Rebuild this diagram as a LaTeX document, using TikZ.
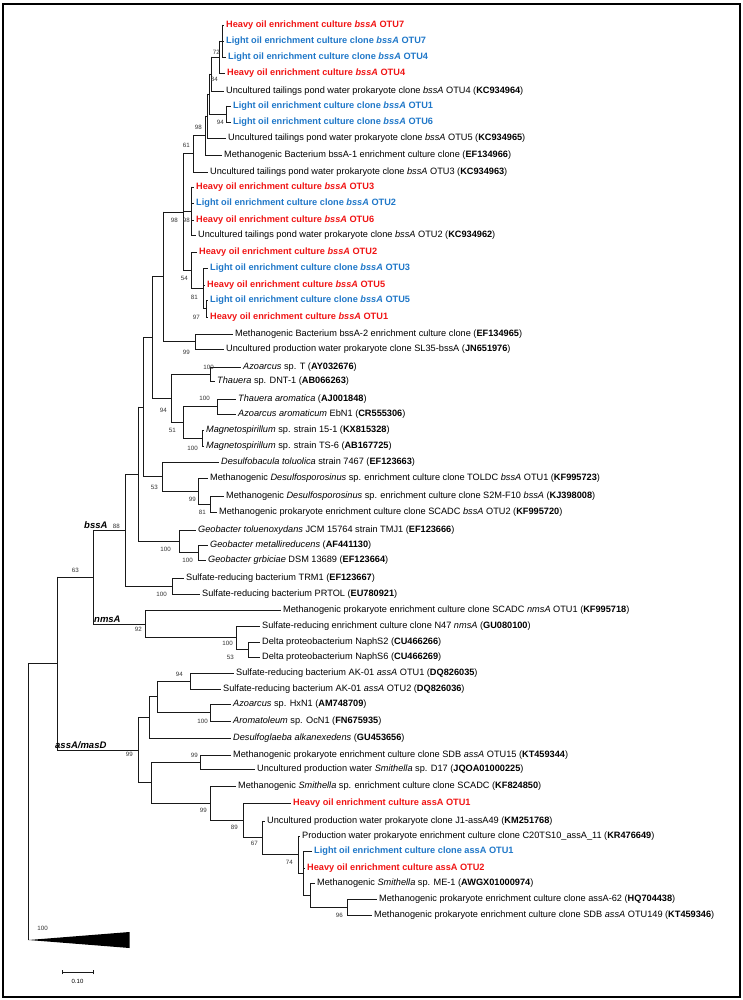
\documentclass[tikz,border=0pt]{standalone}
\usepackage{fontspec}
\setmainfont{Liberation Sans}
\usetikzlibrary{calc}
\definecolor{hred}{HTML}{F01414}
\definecolor{lblue}{HTML}{1F77C8}
\tikzset{
  br/.style={draw=black!90, line width=0.75pt, line cap=rect},
  lfn/.style={anchor=west, inner sep=0pt, text height=6.8pt, text depth=1.9pt, font=\fontsize{9.2}{10}\selectfont},
  heavy/.style={lfn, text=hred, font=\fontsize{9.2}{10}\selectfont\bfseries},
  light/.style={lfn, text=lblue, font=\fontsize{9.2}{10}\selectfont\bfseries},
  bs/.style={anchor=east, inner sep=0pt, font=\fontsize{6.2}{7}\selectfont, text=black!80},
  clab/.style={inner sep=0pt, font=\fontsize{9.5}{10}\selectfont\bfseries\itshape},
}
\newcommand\lf[5]{%
  \node[#2] (#1) at (#3,#4) {#5};
  \coordinate (#1e) at ([xshift=-2.5pt]#1.west);
}
\newcommand\inode[4]{%
  \path let \p1=(#3), \p2=(#4) in coordinate (#1) at (#2pt,{0.5*\y1+0.5*\y2});
  \draw[br] (#1 |- #3) -- (#1 |- #4);
  \draw[br] (#1 |- #3) -- (#3);
  \draw[br] (#1 |- #4) -- (#4);
}
\newcommand\kid[2]{\draw[br] (#1 |- #2) -- (#2);}
\begin{document}
\begin{tikzpicture}[x=1pt,y=-1pt]
\useasboundingbox (0,0) rectangle (743,1000);
\draw[line width=1.3pt] (3,4) rectangle (740,997);
% leaves
\lf{HO7}{heavy}{226}{25}{Heavy oil enrichment culture \textit{bssA} OTU7}
\lf{LO7}{light}{226}{41}{Light oil enrichment culture clone \textit{bssA} OTU7}
\lf{LO4}{light}{228}{57}{Light oil enrichment culture clone \textit{bssA} OTU4}
\lf{HO4}{heavy}{227}{73}{Heavy oil enrichment culture \textit{bssA} OTU4}
\lf{U4}{lfn}{226}{91}{Uncultured tailings pond water prokaryote clone \textit{bssA} OTU4 (\textbf{KC934964})}
\lf{LO1}{light}{233}{106}{Light oil enrichment culture clone \textit{bssA} OTU1}
\lf{LO6}{light}{233}{122}{Light oil enrichment culture clone \textit{bssA} OTU6}
\lf{U5}{lfn}{228}{138}{Uncultured tailings pond water prokaryote clone \textit{bssA} OTU5 (\textbf{KC934965})}
\lf{MB1}{lfn}{224}{155}{Methanogenic Bacterium bssA-1 enrichment culture clone (\textbf{EF134966})}
\lf{U3}{lfn}{210}{172}{Uncultured tailings pond water prokaryote clone \textit{bssA} OTU3 (\textbf{KC934963})}
\lf{HO3}{heavy}{196}{187}{Heavy oil enrichment culture \textit{bssA} OTU3}
\lf{LO2}{light}{196}{203}{Light oil enrichment culture clone \textit{bssA} OTU2}
\lf{HO6}{heavy}{196}{220}{Heavy oil enrichment culture \textit{bssA} OTU6}
\lf{U2}{lfn}{198}{235}{Uncultured tailings pond water prokaryote clone \textit{bssA} OTU2 (\textbf{KC934962})}
\lf{HO2}{heavy}{199}{252}{Heavy oil enrichment culture \textit{bssA} OTU2}
\lf{LO3}{light}{210}{268}{Light oil enrichment culture clone \textit{bssA} OTU3}
\lf{HO5}{heavy}{207}{285}{Heavy oil enrichment culture \textit{bssA} OTU5}
\lf{LO5}{light}{210}{300}{Light oil enrichment culture clone \textit{bssA} OTU5}
\lf{HO1}{heavy}{210}{317}{Heavy oil enrichment culture \textit{bssA} OTU1}
\lf{MB2}{lfn}{235}{334}{Methanogenic Bacterium bssA-2 enrichment culture clone (\textbf{EF134965})}
\lf{SL}{lfn}{226}{349}{Uncultured production water prokaryote clone SL35-bssA (\textbf{JN651976})}
\lf{AzT}{lfn}{243}{367}{\textit{Azoarcus} sp. T (\textbf{AY032676})}
\lf{ThD}{lfn}{217}{381}{\textit{Thauera} sp. DNT-1 (\textbf{AB066263})}
\lf{ThA}{lfn}{238}{399}{\textit{Thauera aromatica} (\textbf{AJ001848})}
\lf{Eb}{lfn}{238}{414}{\textit{Azoarcus aromaticum} EbN1 (\textbf{CR555306})}
\lf{Mg1}{lfn}{206}{430}{\textit{Magnetospirillum} sp. strain 15-1 (\textbf{KX815328})}
\lf{Mg2}{lfn}{206}{446}{\textit{Magnetospirillum} sp. strain TS-6 (\textbf{AB167725})}
\lf{Dsb}{lfn}{221}{462}{\textit{Desulfobacula toluolica} strain 7467 (\textbf{EF123663})}
\lf{TOL}{lfn}{210}{478}{Methanogenic \textit{Desulfosporosinus} sp. enrichment culture clone TOLDC \textit{bssA} OTU1 (\textbf{KF995723})}
\lf{S2M}{lfn}{226}{496}{Methanogenic \textit{Desulfosporosinus} sp. enrichment culture clone S2M-F10 \textit{bssA} (\textbf{KJ398008})}
\lf{SCb}{lfn}{219}{512}{Methanogenic prokaryote enrichment culture clone SCADC \textit{bssA} OTU2 (\textbf{KF995720})}
\lf{Gt}{lfn}{198}{530}{\textit{Geobacter toluenoxydans} JCM 15764 strain TMJ1 (\textbf{EF123666})}
\lf{Gm}{lfn}{210}{545}{\textit{Geobacter metallireducens} (\textbf{AF441130})}
\lf{Gg}{lfn}{208}{560}{\textit{Geobacter grbiciae} DSM 13689 (\textbf{EF123664})}
\lf{TRM}{lfn}{186}{578}{Sulfate-reducing bacterium TRM1 (\textbf{EF123667})}
\lf{PRT}{lfn}{202}{594}{Sulfate-reducing bacterium PRTOL (\textbf{EU780921})}
\lf{SCn}{lfn}{283}{610}{Methanogenic prokaryote enrichment culture clone SCADC \textit{nmsA} OTU1 (\textbf{KF995718})}
\lf{N47}{lfn}{262}{626}{Sulfate-reducing enrichment culture clone N47 \textit{nmsA} (\textbf{GU080100})}
\lf{N2}{lfn}{262}{642}{Delta proteobacterium NaphS2 (\textbf{CU466266})}
\lf{N6}{lfn}{262}{657}{Delta proteobacterium NaphS6 (\textbf{CU466269})}
\lf{AK1}{lfn}{236}{673}{Sulfate-reducing bacterium AK-01 \textit{assA} OTU1 (\textbf{DQ826035})}
\lf{AK2}{lfn}{223}{689}{Sulfate-reducing bacterium AK-01 \textit{assA} OTU2 (\textbf{DQ826036})}
\lf{Hx}{lfn}{233}{704}{\textit{Azoarcus} sp. HxN1 (\textbf{AM748709})}
\lf{Oc}{lfn}{233}{721}{\textit{Aromatoleum} sp. OcN1 (\textbf{FN675935})}
\lf{Dg}{lfn}{233}{738}{\textit{Desulfoglaeba alkanexedens} (\textbf{GU453656})}
\lf{SD15}{lfn}{233}{755}{Methanogenic prokaryote enrichment culture clone SDB \textit{assA} OTU15 (\textbf{KT459344})}
\lf{D17}{lfn}{257}{769}{Uncultured production water \textit{Smithella} sp. D17 (\textbf{JQOA01000225})}
\lf{SCs}{lfn}{238}{786}{Methanogenic \textit{Smithella} sp. enrichment culture clone SCADC (\textbf{KF824850})}
\lf{HA1}{heavy}{293}{803}{Heavy oil enrichment culture assA OTU1}
\lf{J1}{lfn}{267}{821}{Uncultured production water prokaryote clone J1-assA49 (\textbf{KM251768})}
\lf{C20}{lfn}{302}{836}{Production water prokaryote enrichment culture clone C20TS10\_assA\_11 (\textbf{KR476649})}
\lf{LA1}{light}{314}{851}{Light oil enrichment culture clone assA OTU1}
\lf{HA2}{heavy}{307}{868}{Heavy oil enrichment culture assA OTU2}
\lf{ME1}{lfn}{317}{883}{Methanogenic \textit{Smithella} sp. ME-1 (\textbf{AWGX01000974})}
\lf{A62}{lfn}{379}{899}{Methanogenic prokaryote enrichment culture clone assA-62 (\textbf{HQ704438})}
\lf{S149}{lfn}{374}{915}{Methanogenic prokaryote enrichment culture clone SDB \textit{assA} OTU149 (\textbf{KT459346})}
% internal nodes
\inode{n72}{222}{HO7e}{LO4e}\kid{n72}{LO7e}
\inode{n84}{219}{n72}{HO4e}
\inode{nA}{211}{n84}{U4e}
\inode{n94}{226}{LO1e}{LO6e}
\inode{nB}{209}{nA}{n94}
\inode{n98a}{207}{nB}{U5e}
\inode{nD}{205}{n98a}{MB1e}
\inode{n61}{193}{nD}{U3e}
\inode{n98c}{191}{HO3e}{U2e}\kid{n98c}{LO2e}\kid{n98c}{HO6e}
\inode{n97}{206}{LO5e}{HO1e}
\inode{n81}{203}{LO3e}{n97}\kid{n81}{HO5e}
\inode{n54}{191}{HO2e}{n81}
\inode{n98b}{183}{n61}{n54}\kid{n98b}{n98c}
\inode{n99a}{195}{MB2e}{SLe}
\inode{n163}{163}{n98b}{n99a}
\inode{nAz}{210}{AzTe}{ThDe}
\inode{nTh}{217}{ThAe}{Ebe}
\inode{nMg}{202}{Mg1e}{Mg2e}
\inode{n51}{183}{nTh}{nMg}
\inode{n94b}{171}{nAz}{n51}
\inode{n152}{152}{n163}{n94b}
\inode{nDs2}{210}{S2Me}{SCbe}
\inode{n99b}{198}{TOLe}{nDs2}
\inode{n53}{162}{Dsbe}{n99b}
\inode{n143}{143}{n152}{n53}
\inode{nGi}{198}{Gme}{Gge}
\inode{nGo}{179}{Gte}{nGi}
\inode{n138b}{138}{n143}{nGo}
\inode{nTR}{172}{TRMe}{PRTe}
\inode{n88}{125}{n138b}{nTR}
\inode{nN6}{248}{N2e}{N6e}
\inode{nN}{236}{N47e}{nN6}
\inode{n92}{145}{SCne}{nN}
\inode{n63}{93}{n88}{n92}
\inode{nAK}{190}{AK1e}{AK2e}
\inode{nHx}{210}{Hxe}{Oce}
\inode{n157}{157}{nAK}{nHx}
\inode{n149}{149}{n157}{Dge}
\inode{nSD}{200}{SD15e}{D17e}
\inode{nMS}{347}{A62e}{S149e}
\inode{nME}{310}{ME1e}{nMS}
\inode{n74}{303}{LA1e}{nME}\kid{n74}{HA2e}
\inode{nC20}{298}{C20e}{n74}
\inode{n67}{262}{J1e}{nC20}
\inode{n89}{243}{HA1e}{n67}
\inode{n99c}{210}{SCse}{n89}
\inode{n151}{151}{nSD}{n99c}
\inode{n99d}{138}{n149}{n151}
\inode{n57}{57}{n63}{n99d}
\coordinate (tri) at (28.6,940);
\coordinate (triA) at (129.5,932);
\coordinate (triB) at (129.5,948);
\inode{root}{28.6}{n57}{tri}
\fill[black] (tri) -- (triA) -- (triB) -- cycle;
% support values
\node[bs] (b1) at (220,52) {72};
\node[bs] (b2) at (218,79) {84};
\node[bs] (b3) at (224,122) {94};
\node[bs] (b4) at (202,127) {98};
\node[bs] (b5) at (190,145) {61};
\node[bs] (b6) at (178,220) {98};
\node[bs] (b7) at (190,220) {98};
\node[bs] (b8) at (188,278) {54};
\node[bs] (b9) at (198,297) {81};
\node[bs] (b10) at (200,317) {97};
\node[bs] (b11) at (190,352) {99};
\node[bs] (b12) at (214,367) {100};
\node[bs] (b13) at (210,398) {100};
\node[bs] (b14) at (167,410) {94};
\node[bs] (b15) at (176,430) {51};
\node[bs] (b16) at (198,448) {100};
\node[bs] (b17) at (158,487) {53};
\node[bs] (b18) at (196,499) {99};
\node[bs] (b19) at (206,512) {81};
\node[bs, anchor=south east] (b20) at ([xshift=-5pt,yshift=1.5pt]n88) {88};
\node[bs] (b21) at (171,549) {100};
\node[bs] (b22) at (193,560) {100};
\node[bs] (b23) at (79,570) {63};
\node[bs] (b24) at (167,594) {100};
\node[bs] (b25) at (142,629) {92};
\node[bs] (b26) at (233,643) {100};
\node[bs] (b27) at (234,657) {53};
\node[bs] (b28) at (183,674) {94};
\node[bs] (b29) at (208,721) {100};
\node[bs] (b30) at (198,755) {99};
\node[bs, anchor=north east] (b31) at ([xshift=-5pt,yshift=-2pt]n99d) {99};
\node[bs] (b32) at (207,810) {99};
\node[bs] (b33) at (238,827) {89};
\node[bs] (b34) at (258,843) {67};
\node[bs] (b35) at (293,862) {74};
\node[bs] (b36) at (343,915) {96};
\node[bs] (b37) at (48,928) {100};
% clade labels
\node[clab, anchor=south west] (cb) at ([xshift=-41pt,yshift=1.5pt]n88) {bssA};
\node[clab, anchor=south west] (cn) at ([xshift=1pt,yshift=1.5pt]n63 |- n92) {nmsA};
\node[clab, anchor=south west] (ca) at ([xshift=-2pt,yshift=1.5pt]n57 |- n99d) {assA/masD};
% scale bar
\coordinate (s1) at (62,972);
\coordinate (s2) at (93,972);
\draw[br] (s1) -- (s2);
\draw[br] ([yshift=-2pt]s1) -- ([yshift=2pt]s1);
\draw[br] ([yshift=-2pt]s2) -- ([yshift=2pt]s2);
\node[inner sep=0pt, font=\fontsize{6}{7}\selectfont] (sl) at (77.5,981) {0.10};
\end{tikzpicture}
\end{document}
